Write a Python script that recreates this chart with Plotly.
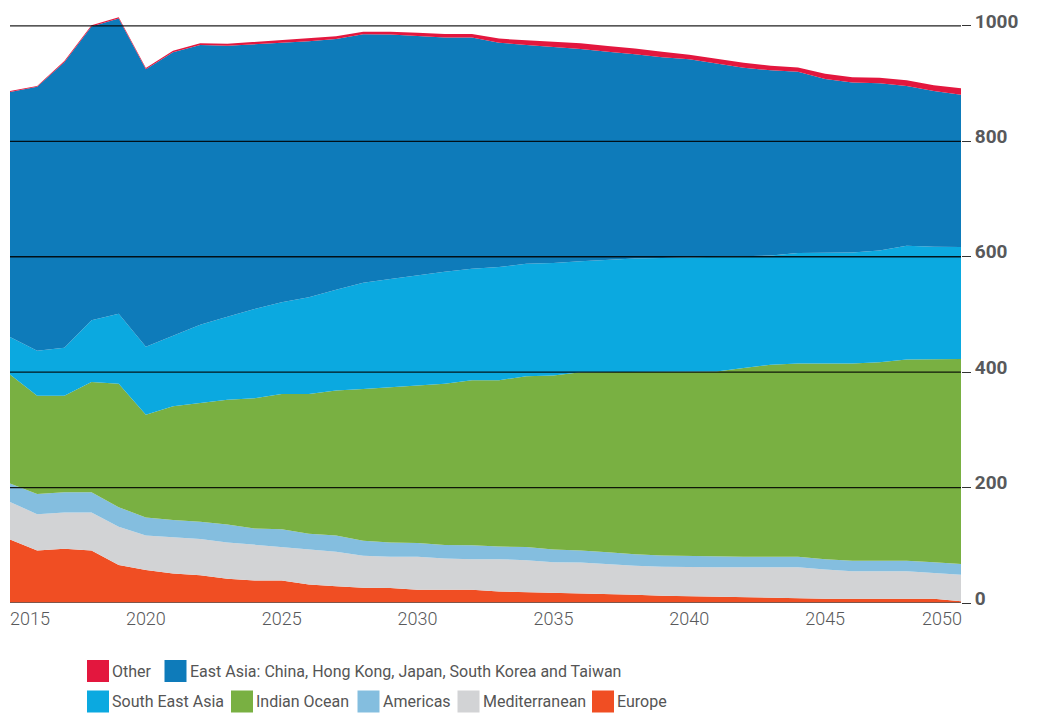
import plotly.graph_objects as go

# ---------------- data ----------------
years = list(range(2015, 2051))

europe = [110, 91, 94, 91, 66, 57, 51, 48, 42, 39, 39, 32, 29, 26.5, 26, 23, 23, 23,
          20, 19, 18, 17.5, 16.5, 14.5, 12.5, 11.5, 11, 10.5, 9.5, 7.5, 7.5, 7.5, 7.5, 7.5, 7.5, 3]
mediterranean = [65, 63, 63, 66, 66, 60, 63, 63, 63, 62, 59, 62, 60, 55.5, 54, 57, 54, 53,
                 56, 55, 52.5, 52.5, 50.5, 50, 50.5, 50.5, 51, 51.5, 52.5, 54.5, 50.5, 47.5, 47.5, 47.5, 44.5, 46]
americas = [32, 35, 35, 35, 34, 31, 30, 30, 31, 28, 30, 26, 28, 26, 25, 24, 23.5, 24,
            22, 23, 22, 21, 21, 20, 19.5, 19.5, 19, 18, 18, 18, 18, 18, 18, 18, 18.5, 18.5]
indian_ocean = [189, 170, 167, 191, 214, 178, 197, 206, 216, 226, 234, 242, 251, 263, 269, 273, 279.5, 286,
                288, 296, 301.5, 309, 312, 315.5, 318.5, 319.5, 320, 327, 333, 335, 339, 342, 344, 349, 352, 355.5]
south_east_asia = [65, 78, 83.5, 107, 121, 118, 122, 135, 144, 154.5, 159, 168, 175, 184, 187.5, 191, 194, 193,
                   196, 195, 195, 192, 194.5, 197, 197, 198, 199, 194, 189, 191.5, 192, 192.5, 194, 197, 195, 194]
east_asia = [424.5, 457.5, 494.5, 509, 512, 481, 491.5, 485, 469.5, 458.5, 449.5, 443.5, 434.5, 430.5, 423.5, 414.5, 406, 401,
             389, 379, 375, 368, 360.5, 354, 347.5, 343, 335, 326.5, 321, 314, 301, 294.5, 289.5, 277, 269.5, 263.5]
other = [1.5, 1.5, 2, 2, 2, 2, 2.5, 3, 3.5, 4, 4.5, 4.5, 4.5, 4.5, 5, 5.5, 6, 6,
         7, 8, 9, 10, 10, 10, 9.5, 8, 8, 8.5, 8, 7.5, 9, 9, 9.5, 10, 10, 11.5]

series_names = ["Europe", "Mediterranean", "Americas", "Indian Ocean", "South East Asia",
                "East Asia: China, Hong Kong, Japan, South Korea and Taiwan", "Other"]
series_values = [europe, mediterranean, americas, indian_ocean, south_east_asia, east_asia, other]
series_colors = ["#F04E23", "#D2D3D5", "#84BEDF", "#79B042", "#0BA9E0", "#0E7BBA", "#E3173E"]

x_tick_labels = ["2015", "2020", "2025", "2030", "2035", "2040", "2045", "2050"]
y_tick_values = [0, 200, 400, 600, 800, 1000]

legend_rows = [
    ["Other", "East Asia: China, Hong Kong, Japan, South Korea and Taiwan"],
    ["South East Asia", "Indian Ocean", "Americas", "Mediterranean", "Europe"],
]

# ---------------- layout geometry ----------------
# the page body adds an 8px margin, so the figure is 8px smaller and
# screen coordinates below are converted by subtracting that offset
OFF = 8
W, H = 1040 - OFF, 713 - OFF
ML, MR, MT, MB = 2, 79, 0, 110
PW, PH = W - ML - MR, H - MT - MB
Y_MAX = 1031


def px2x(px):
    return (px - OFF - ML) / PW


def py2y(py):
    return (H - MB - (py - OFF)) / PH


fig = go.Figure()
for name, vals, col in zip(series_names, series_values, series_colors):
    fig.add_trace(go.Scatter(
        x=years, y=vals, name=name, mode="lines", stackgroup="one",
        line=dict(width=0, color=col), fillcolor=col, showlegend=False,
        hoverinfo="x+y+name",
    ))

# gridlines drawn above the areas
shapes = []
for v in y_tick_values:
    shapes.append(dict(
        type="line", xref="paper", yref="y", x0=0, x1=1, y0=v, y1=v,
        line=dict(color="#5a5a5a" if v == 0 else "rgba(0,0,0,0.88)", width=1.5 if v == 0 else 1.3),
        layer="above",
    ))

# x tick positions: edge labels pulled inward
px_per_year = PW / (years[-1] - years[0] + 0.0)
tickvals = [float(t) for t in x_tick_labels]
tickvals[0] += 20 / px_per_year
tickvals[-1] -= 19 / px_per_year

# manual legend (swatches + text)
annotations = []
color_of = dict(zip(series_names, series_colors))
row_layout = [
    (660, [87, 164.5]),
    (690.5, [87, 231, 357.5, 457.5, 592]),
]
SW = 22
for (top, xs), names in zip(row_layout, legend_rows):
    for x0, nm in zip(xs, names):
        shapes.append(dict(
            type="rect", xref="paper", yref="paper",
            x0=px2x(x0), x1=px2x(x0 + SW), y0=py2y(top + SW), y1=py2y(top),
            fillcolor=color_of[nm], line=dict(width=0), layer="above",
        ))
        annotations.append(dict(
            xref="paper", yref="paper", x=px2x(x0 + SW + 1), y=py2y(top + SW / 2),
            xanchor="left", yanchor="middle", text=nm, showarrow=False,
            font=dict(family="Roboto", size=16, color="#555555", weight=400),
        ))

fig.update_layout(
    width=W, height=H,
    margin=dict(l=ML, r=MR, t=MT, b=MB, pad=0),
    paper_bgcolor="white", plot_bgcolor="white",
    showlegend=False,
    shapes=shapes,
    annotations=annotations,
    xaxis=dict(
        range=[years[0], years[-1]], tickvals=tickvals, ticktext=x_tick_labels,
        ticks="", showgrid=False, zeroline=False, showline=False,
        tickfont=dict(family="Roboto", size=18, color="#58595b", weight=300),
        ticklabelstandoff=3,
    ),
    yaxis=dict(
        range=[0, Y_MAX], side="right", tickvals=y_tick_values,
        ticks="outside", ticklen=9, tickwidth=1.3, tickcolor="#333333",
        showgrid=False, zeroline=False, showline=False,
        tickfont=dict(family="Roboto", size=19, color="#58595b", weight="bold"),
        ticklabelshift=-5,
    ),
)

fig.write_html("out.html")
